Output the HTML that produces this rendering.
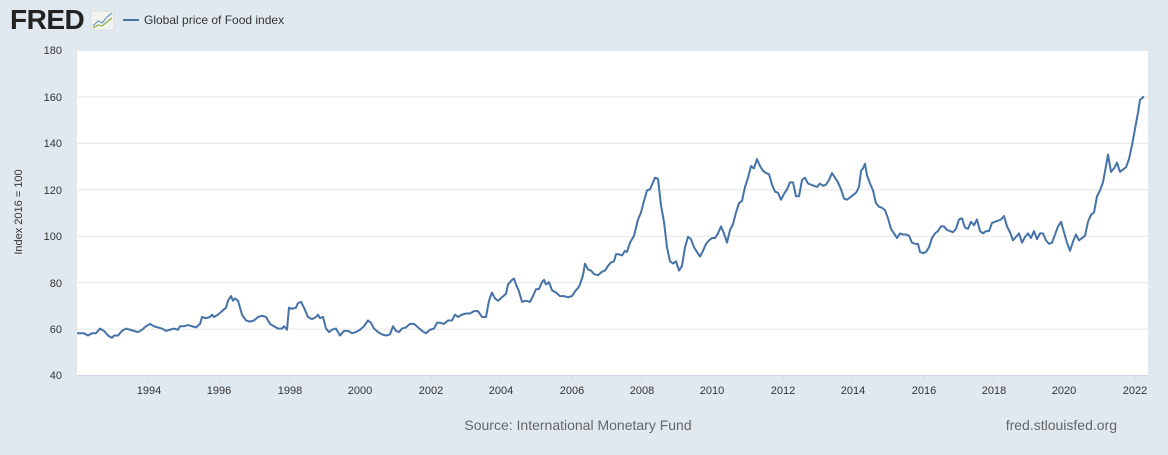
<!DOCTYPE html>
<html><head><meta charset="utf-8"><style>
body{margin:0;width:1168px;height:450px;background:#e1e9f0;font-family:"Liberation Sans",sans-serif;overflow:hidden}
</style></head><body>
<svg width="1168" height="450" xmlns="http://www.w3.org/2000/svg" font-family="Liberation Sans, sans-serif">
<rect width="1168" height="450" fill="#e1e9f0"/>
<text x="10" y="29" font-size="28" font-weight="bold" fill="#222" letter-spacing="-0.5">FRED</text>
<rect x="91" y="11" width="23" height="19" fill="#f2f2ee" stroke="#ccc" stroke-width="0.5"/>
<polyline points="93,26 98,21 102,23 107,17 112,13" fill="none" stroke="#6a9bc8" stroke-width="1.2"/>
<polyline points="93,28 98,25 102,26 107,22 112,18" fill="none" stroke="#8ab04a" stroke-width="1.2"/>
<line x1="123" y1="20" x2="139" y2="20" stroke="#4572a7" stroke-width="2"/>
<text x="144" y="24" font-size="12" fill="#333">Global price of Food index</text>
<rect x="77" y="50" width="1071" height="325" fill="#fff"/>
<g stroke="#e6e6e6" stroke-width="1">
<line x1="77" x2="1148" y1="50.5" y2="50.5"/><line x1="77" x2="1148" y1="96.9" y2="96.9"/>
<line x1="77" x2="1148" y1="143.4" y2="143.4"/><line x1="77" x2="1148" y1="189.8" y2="189.8"/>
<line x1="77" x2="1148" y1="236.2" y2="236.2"/><line x1="77" x2="1148" y1="282.6" y2="282.6"/>
<line x1="77" x2="1148" y1="329.1" y2="329.1"/>
</g>
<line x1="77" x2="1148" y1="375.5" y2="375.5" stroke="#ccd6eb"/>
<g font-size="11" fill="#333" text-anchor="end">
<text x="62" y="54">180</text><text x="62" y="101">160</text><text x="62" y="147">140</text>
<text x="62" y="194">120</text><text x="62" y="240">100</text><text x="62" y="287">80</text>
<text x="62" y="333">60</text><text x="62" y="379">40</text>
</g>
<text transform="translate(22,212) rotate(-90)" font-size="11" fill="#333" text-anchor="middle">Index 2016 = 100</text>
<g font-size="11" fill="#333" text-anchor="middle">
<text x="149" y="394">1994</text><text x="219" y="394">1996</text><text x="290" y="394">1998</text>
<text x="360" y="394">2000</text><text x="431" y="394">2002</text><text x="501" y="394">2004</text>
<text x="572" y="394">2006</text><text x="642" y="394">2008</text><text x="712" y="394">2010</text>
<text x="783" y="394">2012</text><text x="853" y="394">2014</text><text x="924" y="394">2016</text>
<text x="994" y="394">2018</text><text x="1064" y="394">2020</text><text x="1135" y="394">2022</text>
</g>
<g stroke="#ccd6eb">
<line x1="149" x2="149" y1="375" y2="380"/><line x1="219" x2="219" y1="375" y2="380"/><line x1="290" x2="290" y1="375" y2="380"/><line x1="360" x2="360" y1="375" y2="380"/><line x1="431" x2="431" y1="375" y2="380"/><line x1="501" x2="501" y1="375" y2="380"/><line x1="572" x2="572" y1="375" y2="380"/><line x1="642" x2="642" y1="375" y2="380"/><line x1="712" x2="712" y1="375" y2="380"/><line x1="783" x2="783" y1="375" y2="380"/><line x1="853" x2="853" y1="375" y2="380"/><line x1="924" x2="924" y1="375" y2="380"/><line x1="994" x2="994" y1="375" y2="380"/><line x1="1064" x2="1064" y1="375" y2="380"/><line x1="1135" x2="1135" y1="375" y2="380"/>
</g>
<g transform="matrix(1,0,0,-2.3214,0,467.86)">
<polyline fill="none" stroke="#4572a7" stroke-width="2" vector-effect="non-scaling-stroke" stroke-linejoin="round" points="
77,58 84,58 88,57 92,58 96,58 100,60 104,59 108,57 112,56 114,57 118,57 122,59 126,60 130,59.5 134,59 138,58.5 142,59.5 146,61 150,62 154,61 158,60.5 162,60 166,59 170,59.5 174,60 178,59.5 180,61 184,61 188,61.5 192,61 196,60.5 200,62 202,65 206,64.5 210,65 212,66 214,65 218,66 222,67.5 226,69 228,72 231,74 233,72 235,73 238,72 242,66 246,63.5 250,63 254,63.5 258,65 262,65.5 266,65 270,62 274,61 278,60 282,60 284,61 287,59.5 289,69 292,68.5 296,69 298,71 301,71.5 304,69 308,65 312,64 316,65 318,66 320,64.5 323,65 326,60 329,58.5 332,59.5 336,60 340,57 344,59 348,59 352,58 356,58.5 360,59.5 364,61 368,63.5 371,62.5 374,60 378,58.5 382,57.5 386,57 390,57.5 393,61 396,59 399,58.5 402,60 406,60.5 410,62 414,62 418,60.5 422,59 426,58 430,59.5 434,60 437,62.5 440,62.5 444,62 448,63.5 452,63.5 455,66 458,65 462,66 466,66.5 470,66.5 474,67.5 478,67.5 482,65 486,65 489,72 492,75.5 495,73 498,72 502,73.5 506,75 508,79 512,81 514,81.5 516,79 519,76 522,71.5 526,72 530,71.5 533,74 536,77 539,77 542,80 544,81 546,79 549,80 552,76.5 556,75.5 560,74 564,74 568,73.5 572,74 575,76 578,77.5 580,79 583,83 585,88 588,85.5 591,85 594,83.5 598,83 602,84.5 605,85 608,87 611,88.5 614,89 616,92 619,92 622,91.5 625,93.5 627,93 630,97 634,100 638,107 641,110 644,115 647,119.5 650,120 652,122 655,125 658,124.5 661,113 664,106 667,95 670,89 673,88 676,89 679,85 682,87 685,95 688,99.5 691,98.5 694,95 697,93 700,91 703,93.5 706,96.5 709,98 712,99 715,99 718,101 721,104 724,101 727,97 730,102.5 733,105 736,110 739,114 742,115 745,121 748,125 751,130 754,129 757,133 760,130 763,128 766,127 769,126.5 772,122 775,119 778,118.5 781,115.5 784,118 787,120 790,123 793,123 796,117 799,117 802,124 805,125 808,122.5 811,122 814,121.5 817,121 820,122.5 823,121.5 826,122 829,124 832,127 835,125 838,123 841,120 844,116 847,115.5 850,116.5 853,117.5 856,118.5 859,121 861,128 863,129 865,131 867,126 870,122.5 873,119.5 876,114 879,112.5 882,112 885,111 888,107.5 891,103 894,101 897,99 900,101 903,100.5 906,100.5 909,100 912,97 915,96.5 918,96.5 920,93 923,92.5 926,93 929,95 932,99 935,101 938,102 941,104 944,104 947,102.5 950,102 953,101.5 956,103 959,107 962,107.5 965,103.5 968,103 971,106 974,104.5 977,107 980,102 983,101 986,102 989,102 992,105.5 995,106 998,106.5 1001,107 1004,108.5 1007,104 1010,101.5 1013,98 1016,99.5 1019,101 1022,97 1025,99.5 1028,101 1031,99 1034,102 1037,98.5 1040,101 1043,101 1046,98 1049,96.5 1052,97 1055,100.5 1058,104 1061,106 1064,101.5 1067,97 1070,93.5 1073,97.5 1076,100.5 1079,98 1082,99 1085,100 1088,106 1091,109 1094,110 1097,117 1100,119.5 1103,123 1106,130 1108,135 1111,127.5 1114,129 1117,131.5 1120,127.5 1123,128.5 1126,129.5 1129,133 1132,139 1135,146 1138,153 1140,158.5 1144,160"/>
</g>
<text x="578" y="430" font-size="14" fill="#666" text-anchor="middle">Source: International Monetary Fund</text>
<text x="1117" y="430" font-size="14" fill="#666" text-anchor="end">fred.stlouisfed.org</text>
</svg>
</body></html>
